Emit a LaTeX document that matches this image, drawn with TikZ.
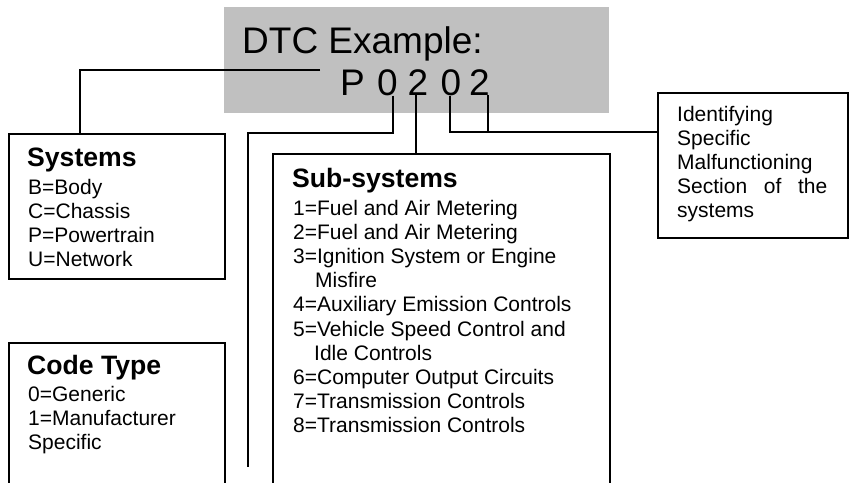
\documentclass[tikz,border=0pt]{standalone}
\usepackage{fontspec}
\setmainfont{Liberation Sans}
\definecolor{silver}{RGB}{192,192,192}
\newcommand\bodyfnt{\fontsize{21}{24}\selectfont}
\newcommand\titlefnt{\fontsize{26.6}{30}\selectfont\bfseries}
\newcommand\bigfnt{\fontsize{37}{42}\selectfont}
\tikzset{
  boxed/.style={draw=black, line width=1.9pt, anchor=north west, inner sep=0pt},
  txt/.style={anchor=base west, inner sep=0pt, font=\bodyfnt},
  ttl/.style={anchor=base west, inner sep=0pt, font=\titlefnt},
  digit/.style={anchor=base, inner sep=0pt, font=\bigfnt},
  conn/.style={draw=black, line width=1.9pt}
}
\begin{document}
\begin{tikzpicture}[x=1pt,y=-1pt]
\clip (0,0) rectangle (851,482);
\fill[white] (0,0) rectangle (851,482);
% gray header
\node[fill=silver, anchor=north west, inner sep=0pt, minimum width=385pt, minimum height=106pt] (hdr) at (224,7) {};
\node[anchor=base west, inner sep=0pt, font=\bigfnt] (dtc) at (242,53) {DTC Example:};
\node[anchor=base west, inner sep=0pt, font=\bigfnt] (cp) at (340,95) {P};
\node[digit] (d1) at (387.5,95) {0};
\node[digit] (d2) at (418,95) {2};
\node[digit] (d3) at (451,95) {0};
\node[digit] (d4) at (479.5,95) {2};
% boxes
\node[boxed, minimum width=216pt, minimum height=145pt] (sys) at (8,133) {};
\node[boxed, minimum width=216pt, minimum height=170pt] (code) at (8,342) {};
\node[boxed, minimum width=337pt, minimum height=350pt] (sub) at (272,153) {};
\node[boxed, minimum width=190pt, minimum height=145pt] (ident) at (657,92) {};
% systems text
\node[ttl] (sysT) at (27,166) {Systems};
\node[txt] (sys1) at (28,194) {B=Body};
\node[txt] (sys2) at (28,218.3) {C=Chassis};
\node[txt] (sys3) at (28,242.6) {P=Powertrain};
\node[txt] (sys4) at (28,266.9) {U=Network};
% code type text
\node[ttl] (codeT) at (27,374) {Code Type};
\node[txt] (code1) at (28,401) {0=Generic};
\node[txt] (code2) at (28,425) {1=Manufacturer};
\node[txt] (code3) at (28,449) {Specific};
% sub-systems text
\node[ttl] (subT) at (292,187) {Sub-systems};
\node[txt] (s1) at (293,215) {1=Fuel and Air Metering};
\node[txt] (s2) at (293,239.2) {2=Fuel and Air Metering};
\node[txt] (s3) at (293,263.4) {3=Ignition System or Engine};
\node[txt] (s3b) at (315,287.6) {Misfire};
\node[txt] (s4) at (293,311.8) {4=Auxiliary Emission Controls};
\node[txt] (s5) at (293,336) {5=Vehicle Speed Control and};
\node[txt] (s5b) at (314,360.2) {Idle Controls};
\node[txt] (s6) at (293,384.4) {6=Computer Output Circuits};
\node[txt] (s7) at (293,408.6) {7=Transmission Controls};
\node[txt] (s8) at (293,432.8) {8=Transmission Controls};
% identifying text
\node[txt] (i1) at (677,121) {Identifying};
\node[txt] (i2) at (677,145.2) {Specific};
\node[txt] (i3) at (677,169.4) {Malfunctioning};
\node[txt] (i4) at (677,193.6) {\makebox[150pt][s]{Section of the}};
\node[txt] (i5) at (677,217.8) {systems};
% connectors
\coordinate (sysA) at (320,70);
\draw[conn] (sysA) -| ([xshift=72pt]sys.north west);
\coordinate (ctBend) at (248,133);
\coordinate (ctEnd) at (248,467);
\draw[conn] ([xshift=5.5pt]d1.south) |- (ctBend) -- (ctEnd);
\draw[conn] ([xshift=-2pt]d2.south) -- ([xshift=-2pt]d2.south |- sub.north);
\coordinate (idj) at ([yshift=-40pt]ident.north west);
\draw[conn] ([xshift=-1pt]d3.south) |- (idj);
\draw[conn] ([xshift=8.5pt]d4.south) -- ([xshift=8.5pt]d4.south |- idj);
\end{tikzpicture}
\end{document}
